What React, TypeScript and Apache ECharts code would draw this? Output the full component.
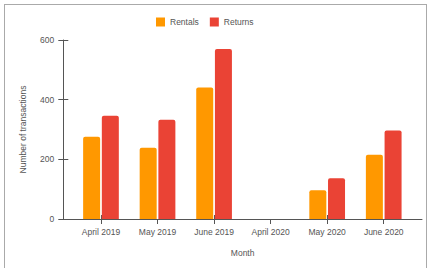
import React, { useEffect, useRef } from "react";
import * as echarts from "echarts";

const months = ["April 2019", "May 2019", "June 2019", "April 2020", "May 2020", "June 2020"];
const rentals = [276, 239, 441, 0, 96, 215];
const returns = [346, 333, 570, 0, 137, 297];
const yTicks = { min: 0, max: 600, interval: 200 };

const FONT = "'Liberation Sans', Arial, sans-serif";
const TEXT = "#555";
const AXIS = "#555";

export default function App() {
  const ref = useRef<HTMLDivElement>(null);
  useEffect(() => {
    if (!ref.current) return;
    const chart = echarts.init(ref.current, null, { renderer: "svg" });
    chart.setOption({
      animation: false,
      textStyle: { fontFamily: FONT },
      legend: {
        left: 156,
        top: 17.5,
        padding: 0,
        itemWidth: 9,
        itemHeight: 9,
        itemGap: 11,
        icon: "rect",
        textStyle: { fontSize: 8.5, color: TEXT, fontFamily: FONT },
        data: ["Rentals", "Returns"],
      },
      grid: [
        { left: 72.7, right: 17, top: 40, bottom: 49 },
        { left: 63.3, right: 7, top: 40, bottom: 49 },
      ],
      xAxis: [
        {
          type: "category",
          gridIndex: 0,
          position: "bottom",
          data: months,
          axisLine: { show: false },
          axisTick: { show: true, alignWithLabel: true, length: 5, lineStyle: { color: AXIS } },
          axisLabel: { fontSize: 8.5, color: TEXT, margin: 8, fontFamily: FONT },
        },
        {
          type: "category",
          gridIndex: 0,
          position: "bottom",
          data: months,
          axisLine: { show: false },
          axisTick: { show: true, inside: true, alignWithLabel: true, length: 4, lineStyle: { color: AXIS } },
          axisLabel: { show: false },
        },
        {
          type: "value",
          gridIndex: 1,
          position: "bottom",
          min: 0,
          max: 1,
          name: "Month",
          nameLocation: "middle",
          nameGap: 29,
          nameTextStyle: { fontSize: 8.5, color: TEXT, fontFamily: FONT },
          axisLine: { show: true, lineStyle: { color: AXIS } },
          axisTick: { show: false },
          axisLabel: { show: false },
          splitLine: { show: false },
        },
      ],
      yAxis: [
        {
          type: "value",
          gridIndex: 0,
          position: "left",
          offset: 9.4,
          ...yTicks,
          name: "Number of transactions",
          nameLocation: "middle",
          nameGap: 36,
          nameTextStyle: { fontSize: 8.5, color: TEXT, fontFamily: FONT },
          axisLine: { show: true, lineStyle: { color: AXIS } },
          axisTick: { show: true, length: 5, lineStyle: { color: AXIS } },
          axisLabel: { fontSize: 8.5, color: TEXT, margin: 9, fontFamily: FONT },
          splitLine: { show: false },
        },
        {
          type: "value",
          gridIndex: 0,
          position: "left",
          offset: 9.4,
          ...yTicks,
          axisLine: { show: false },
          axisTick: { show: true, inside: true, length: 5, lineStyle: { color: AXIS } },
          axisLabel: { show: false },
          splitLine: { show: false },
        },
        {
          type: "value",
          gridIndex: 1,
          show: false,
          min: 0,
          max: 1,
        },
      ],
      series: [
        {
          name: "Rentals",
          type: "bar",
          xAxisIndex: 0,
          yAxisIndex: 0,
          data: rentals,
          barWidth: 17,
          barGap: "10%",
          itemStyle: { color: "#FF9800", borderRadius: [2, 2, 0, 0] },
        },
        {
          name: "Returns",
          type: "bar",
          xAxisIndex: 0,
          yAxisIndex: 0,
          data: returns,
          barWidth: 17,
          barGap: "10%",
          itemStyle: { color: "#EA4335", borderRadius: [2, 2, 0, 0] },
        },
      ],
    });
    return () => chart.dispose();
  }, []);

  return (
    <div style={{ position: "fixed", left: 0, top: 0, width: 429, height: 268, background: "#fff" }}>
      <div
        style={{
          position: "absolute",
          left: 4,
          top: 4,
          width: 423,
          height: 280,
          border: "1px solid #aaa",
          boxSizing: "border-box",
        }}
      />
      <div ref={ref} style={{ position: "absolute", left: 0, top: 0, width: 429, height: 268 }} />
    </div>
  );
}
